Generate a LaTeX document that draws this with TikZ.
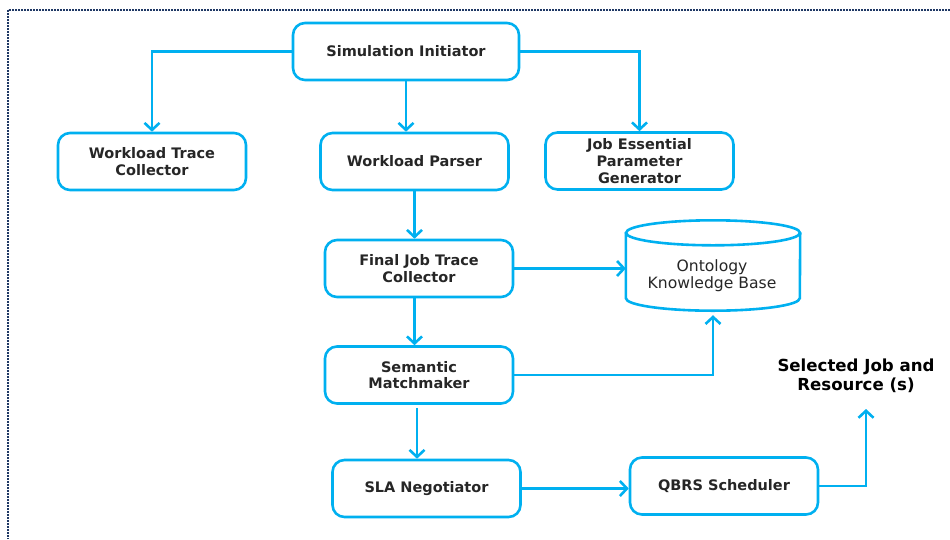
\documentclass[tikz,border=0pt]{standalone}
\usepackage{fontspec}
\setmainfont{DejaVu Sans}
\usetikzlibrary{arrows.meta}
\definecolor{flowblue}{HTML}{00B0F0}
\definecolor{framenavy}{HTML}{1F3864}
\tikzset{
  block/.style={draw=flowblue, line width=2.6pt, rounded corners=12pt, fill=white,
    minimum width=188pt, minimum height=57pt, align=center,
    font=\fontsize{14.5}{16.8}\selectfont\bfseries, text=black!85},
  flow/.style={draw=flowblue, line width=2.6pt,
    -{Straight Barb[length=7pt,width=15pt,line width=2.6pt]}},
  wire/.style={draw=flowblue, line width=2.6pt},
  frame/.style={draw=framenavy, dash pattern=on 1.6pt off 1.4pt},
}
\begin{document}
\begin{tikzpicture}[x=1pt,y=-1pt]
\useasboundingbox (0,0) rectangle (950,539);

% dotted page frame
\draw[frame, line width=1.4pt] (950,10) -- (8,10);
\draw[frame, line width=2.3pt] (8,10) -- (8,539);

% blocks
\node[block, minimum width=226pt] (sim) at (406,51.5) {Simulation Initiator};
\node[block] (wtc)  at (152,161.5)   {Workload Trace\\Collector};
\node[block] (wp)   at (414.5,161.5) {Workload Parser};
\node[block] (jepg) at (639.5,161)   {Job Essential\\Parameter\\Generator};
\node[block] (fjt)  at (419,268.5)   {Final Job Trace\\Collector};
\node[block] (sm)   at (419,375)     {Semantic\\Matchmaker};
\node[block] (sla)  at (426.5,488.5) {SLA Negotiator};
\node[block] (qbrs) at (724,486)     {QBRS Scheduler};

% knowledge base drawn as a cylinder around an empty frame node
\node[minimum width=174pt, minimum height=65pt, inner sep=0pt] (kb) at (713,265.5) {};
\draw[wire] (kb.north west) -- (kb.south west)
  arc[start angle=180, end angle=360, x radius=87pt, y radius=12.5pt]
  -- (kb.north east);
\draw[wire] (kb.north) ellipse [x radius=87pt, y radius=12.5pt];
\node[align=center, font=\fontsize{15.6}{17}\selectfont, text=black!85]
  (kbtext) at (712,275.5) {Ontology\\Knowledge Base};

% output label
\node[align=center, font=\fontsize{16.6}{19}\selectfont\bfseries, text=black]
  (sel) at (856,376) {Selected Job and\\Resource (s)};
\coordinate (seltip) at (866,409);

% connectors
\draw[flow] (sim.west) -| (wtc.north);
\draw[flow] (sim.south) -- (sim.south |- wp.north);
\draw[flow] (sim.east) -| (jepg.north);
\draw[flow] (wp.south) -- (wp.south |- fjt.north);
\draw[flow] (fjt.south -| wp.south) -- (wp.south |- sm.north);
\draw[flow] (fjt.east) -- (fjt.east -| kb.west);
\draw[flow] (sm.east) -| ([yshift=-17pt]kb.south);
\draw[flow] ([xshift=-2pt,yshift=-3pt]sm.south) -- ([xshift=-2pt]sm.south |- sla.north);
\draw[flow] (sla.east) -- (sla.east -| qbrs.west);
\draw[flow] (qbrs.east) -| (seltip);
\end{tikzpicture}
\end{document}
